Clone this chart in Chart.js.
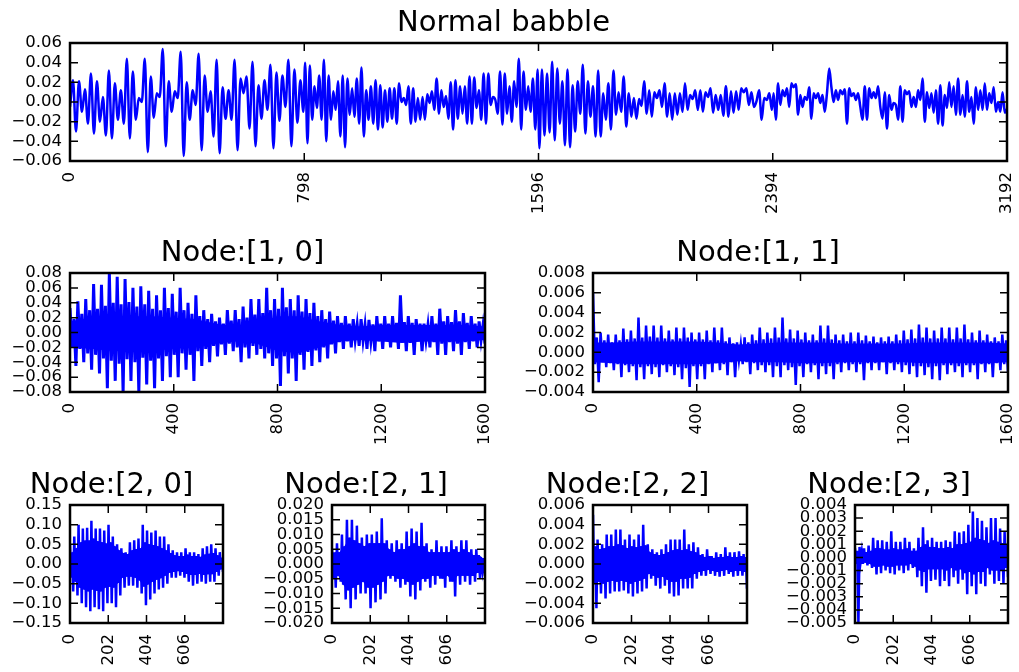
<!DOCTYPE html>
<html>
<head>
<meta charset="utf-8">
<script src="https://cdn.jsdelivr.net/npm/chart.js@4.4.1/dist/chart.umd.min.js"></script>
<style>
  html, body { margin: 0; padding: 0; background: #fff; overflow: hidden; }
  #figure { position: relative; width: 1019px; height: 672px; overflow: hidden; }
  #figure canvas { position: absolute; }
</style>
</head>
<body>
<div id="figure"></div>
<script>
// Normal babble, one quarter of the time axis at a time
var babbleQ1 = [-0.005, 0.022, -0.030, 0.021, -0.010, 0.013, -0.022, 0.029, -0.032, 0.021, -0.020, 0.005, -0.034, 0.032,
  -0.037, 0.019, -0.018, 0.012, -0.022, 0.044, -0.037, 0.031, -0.018, 0.004, 0.000, 0.044, -0.051, 0.026, -0.016, 0.009,
  0.005, 0.054, -0.045, 0.021, -0.010, 0.011, 0.004, 0.051, -0.055, 0.020, -0.018, 0.012, -0.003, 0.049, -0.049, 0.027,
  -0.010, 0.011, -0.035, 0.043, -0.052, 0.015, -0.017, 0.012, -0.018, 0.043, -0.049, 0.024, 0.009, 0.026, -0.027, 0.041,
  -0.045, 0.017, -0.017, 0.022, -0.008, 0.038, -0.047, 0.030, -0.019, 0.027, -0.005, 0.043, -0.045, 0.033, -0.021, 0.022, -0.010];
var babbleQ2 = [0.040, -0.042, 0.037, -0.018, 0.016, -0.006, 0.027, -0.018, 0.043, -0.040, 0.027, -0.018, 0.011, -0.008,
  0.021, -0.035, 0.027, -0.046, 0.024, -0.013, 0.014, -0.015, 0.024, -0.022, 0.035, -0.035, 0.012, -0.018, 0.016, -0.022,
  0.022, -0.028, 0.017, -0.026, 0.012, -0.020, 0.014, -0.017, 0.014, -0.022, 0.019, 0.000, 0.004, -0.003, 0.016, -0.022,
  0.014, -0.020, 0.004, -0.018, 0.005, -0.018, 0.008, -0.001, 0.011, -0.008, 0.024, -0.012, 0.012, -0.005, 0.006, -0.017,
  0.020, -0.028, 0.022, -0.017, 0.016, -0.012, 0.016, -0.022, 0.026, -0.022, 0.025, -0.006, 0.012, -0.018, 0.029, -0.022,
  0.029, -0.003, 0.005, 0.002, -0.012, 0.031, -0.023, 0.029, -0.012, 0.016, -0.020, 0.021, -0.005, 0.044, -0.028, 0.031,
  -0.008, 0.016, -0.010, 0.024, -0.028, 0.033];
var babbleQ3 = [-0.047, 0.033, -0.034, 0.029, -0.031, 0.041, -0.039, 0.034, -0.022, 0.021, -0.044, 0.033, -0.046, 0.017,
  -0.030, 0.021, -0.012, 0.038, -0.032, 0.021, -0.015, 0.016, -0.035, 0.032, -0.035, 0.009, -0.018, 0.019, -0.028, 0.032,
  -0.013, 0.010, -0.010, 0.026, -0.025, 0.009, -0.015, 0.004, -0.017, 0.003, -0.004, 0.021, -0.012, 0.012, -0.015, 0.010,
  0.004, 0.012, -0.005, 0.019, -0.015, 0.009, -0.018, 0.009, -0.013, 0.009, -0.010, 0.019, -0.008, 0.007, 0.003, 0.012,
  -0.008, 0.012, -0.010, 0.010, 0.005, 0.014, -0.011, 0.007, -0.008, 0.007, -0.014, 0.016, -0.015, 0.011, -0.011, 0.011,
  -0.008, 0.014, 0.010, 0.014, -0.003, 0.010, -0.005, 0.001, 0.012, -0.018, 0.004, 0.002, 0.009, -0.008];
var babbleQ4 = [0.009, -0.018, 0.019, -0.003, 0.012, 0.006, 0.014, -0.005, 0.019, 0.015, 0.018, -0.013, 0.007, -0.005,
  0.005, 0.002, 0.015, -0.017, 0.009, 0.004, 0.009, -0.001, 0.007, -0.010, 0.009, 0.034, 0.015, 0.000, 0.012, 0.002,
  0.012, 0.008, 0.013, -0.022, 0.014, 0.006, 0.009, 0.002, 0.009, -0.005, -0.018, 0.016, -0.018, 0.014, 0.004, 0.010,
  0.004, 0.016, -0.005, -0.017, 0.010, -0.027, 0.007, -0.008, -0.001, -0.003, -0.018, 0.016, -0.020, 0.012, 0.008, 0.011,
  -0.005, 0.005, -0.005, 0.012, 0.002, 0.024, -0.020, 0.010, -0.006, 0.009, -0.011, 0.012, -0.022, 0.017, -0.024, 0.007,
  -0.006, 0.020, -0.005, 0.016, -0.013, 0.024, -0.013, 0.007, -0.015, 0.021, -0.010, 0.005, -0.022, 0.015, -0.008, 0.012,
  -0.008, 0.019, -0.008, 0.009, -0.001, 0.015, -0.010, 0.000, -0.010, 0.010, -0.011, -0.007];

// node signals: each row is [peak up, inner down, inner up, peak down] along the time axis
var node10 = [
  [0.033, -0.020, 0.018, -0.045], [0.042, -0.022, 0.025, -0.040], [0.045, -0.028, 0.030, -0.050], [0.065, -0.030, 0.032, -0.055],
  [0.064, -0.035, 0.036, -0.075], [0.080, -0.038, 0.040, -0.065], [0.075, -0.042, 0.038, -0.080], [0.072, -0.036, 0.041, -0.065],
  [0.060, -0.040, 0.035, -0.080], [0.062, -0.034, 0.038, -0.070], [0.056, -0.038, 0.032, -0.075], [0.050, -0.035, 0.030, -0.065],
  [0.060, -0.032, 0.033, -0.060], [0.052, -0.030, 0.028, -0.060], [0.060, -0.028, 0.030, -0.050], [0.040, -0.030, 0.025, -0.065],
  [0.050, -0.025, 0.022, -0.045], [0.030, -0.022, 0.018, -0.040], [0.025, -0.018, 0.015, -0.032], [0.020, -0.016, 0.012, -0.030],
  [0.030, -0.015, 0.016, -0.025], [0.030, -0.020, 0.018, -0.040], [0.035, -0.020, 0.020, -0.035], [0.045, -0.018, 0.024, -0.030],
  [0.045, -0.022, 0.026, -0.035], [0.060, -0.028, 0.030, -0.045], [0.045, -0.035, 0.032, -0.072], [0.060, -0.032, 0.034, -0.055],
  [0.045, -0.035, 0.030, -0.065], [0.050, -0.030, 0.028, -0.050], [0.045, -0.026, 0.026, -0.045], [0.040, -0.024, 0.022, -0.040],
  [0.030, -0.020, 0.018, -0.035], [0.028, -0.016, 0.016, -0.028], [0.022, -0.013, 0.013, -0.022], [0.022, -0.012, 0.012, -0.020],
  [0.018, -0.010, 0.011, -0.018], [0.018, -0.011, 0.010, -0.022], [0.017, -0.012, 0.011, -0.025], [0.022, -0.012, 0.012, -0.022],
  [0.022, -0.011, 0.012, -0.020], [0.022, -0.012, 0.013, -0.022], [0.050, -0.013, 0.014, -0.025], [0.022, -0.014, 0.013, -0.030],
  [0.018, -0.012, 0.012, -0.025], [0.012, -0.011, 0.010, -0.020], [0.022, -0.013, 0.012, -0.030], [0.032, -0.015, 0.015, -0.030],
  [0.022, -0.013, 0.014, -0.025], [0.030, -0.015, 0.015, -0.030], [0.026, -0.013, 0.013, -0.022], [0.022, -0.012, 0.012, -0.020],
  [0.015, -0.010, 0.010, -0.015]];
// solid core of the Node:[1, 0] signal, every 80 samples
var node10CoreUp = [0.015, 0.020, 0.022, 0.022, 0.022, 0.020, 0.018, 0.012, 0.008, 0.012, 0.022,
  0.022, 0.015, 0.010, 0.008, 0.010, 0.010, 0.010, 0.010, 0.010, 0.008];
var node10CoreDown = [-0.020, -0.022, -0.025, -0.025, -0.025, -0.022, -0.020, -0.015, -0.012, -0.015, -0.025,
  -0.028, -0.020, -0.012, -0.010, -0.012, -0.014, -0.012, -0.012, -0.012, -0.010];

var node11 = [
  [0.0060, -0.0012, 0.0015, -0.0030], [0.0020, -0.0010, 0.0012, -0.0015], [0.0018, -0.0011, 0.0010, -0.0018], [0.0018, -0.0012, 0.0012, -0.0025],
  [0.0024, -0.0013, 0.0013, -0.0020], [0.0022, -0.0014, 0.0014, -0.0028], [0.0035, -0.0015, 0.0015, -0.0027], [0.0027, -0.0014, 0.0016, -0.0022],
  [0.0027, -0.0015, 0.0015, -0.0025], [0.0027, -0.0013, 0.0014, -0.0020], [0.0022, -0.0014, 0.0013, -0.0023], [0.0025, -0.0015, 0.0014, -0.0027],
  [0.0025, -0.0016, 0.0015, -0.0035], [0.0020, -0.0014, 0.0013, -0.0027], [0.0020, -0.0014, 0.0013, -0.0027], [0.0022, -0.0012, 0.0012, -0.0020],
  [0.0025, -0.0011, 0.0012, -0.0018], [0.0025, -0.0012, 0.0011, -0.0023], [0.0015, -0.0010, 0.0009, -0.0025], [0.0010, -0.0008, 0.0008, -0.0012],
  [0.0015, -0.0010, 0.0010, -0.0022], [0.0018, -0.0011, 0.0012, -0.0018], [0.0025, -0.0013, 0.0013, -0.0020], [0.0020, -0.0013, 0.0014, -0.0025],
  [0.0025, -0.0014, 0.0015, -0.0025], [0.0035, -0.0013, 0.0014, -0.0018], [0.0023, -0.0015, 0.0014, -0.0033], [0.0022, -0.0014, 0.0013, -0.0025],
  [0.0020, -0.0012, 0.0012, -0.0020], [0.0018, -0.0013, 0.0012, -0.0027], [0.0027, -0.0014, 0.0014, -0.0022], [0.0027, -0.0014, 0.0013, -0.0027],
  [0.0018, -0.0012, 0.0012, -0.0020], [0.0018, -0.0011, 0.0011, -0.0018], [0.0020, -0.0012, 0.0011, -0.0020], [0.0020, -0.0012, 0.0012, -0.0028],
  [0.0017, -0.0011, 0.0011, -0.0018], [0.0016, -0.0011, 0.0010, -0.0018], [0.0015, -0.0010, 0.0011, -0.0022], [0.0016, -0.0011, 0.0011, -0.0018],
  [0.0018, -0.0012, 0.0012, -0.0020], [0.0022, -0.0013, 0.0013, -0.0022], [0.0023, -0.0014, 0.0014, -0.0025], [0.0028, -0.0014, 0.0015, -0.0023],
  [0.0025, -0.0015, 0.0014, -0.0027], [0.0022, -0.0014, 0.0014, -0.0028], [0.0025, -0.0013, 0.0014, -0.0022], [0.0025, -0.0013, 0.0013, -0.0020],
  [0.0025, -0.0014, 0.0014, -0.0025], [0.0028, -0.0013, 0.0013, -0.0020], [0.0020, -0.0013, 0.0012, -0.0027], [0.0022, -0.0012, 0.0012, -0.0020],
  [0.0018, -0.0012, 0.0011, -0.0025], [0.0015, -0.0011, 0.0011, -0.0018], [0.0018, -0.0012, 0.0012, -0.0020]];
// solid core of the Node:[1, 1] signal, every 80 samples
var node11CoreUp = [0.0010, 0.0010, 0.0011, 0.0011, 0.0011, 0.0011, 0.0010, 0.0008, 0.0009, 0.0010, 0.0010,
  0.0010, 0.0009, 0.0009, 0.0009, 0.0009, 0.0010, 0.0010, 0.0010, 0.0010, 0.0009];
var node11CoreDown = [-0.0010, -0.0011, -0.0012, -0.0012, -0.0012, -0.0012, -0.0011, -0.0009, -0.0010, -0.0010, -0.0011,
  -0.0011, -0.0010, -0.0010, -0.0010, -0.0010, -0.0011, -0.0011, -0.0011, -0.0011, -0.0010];

var node20 = [
  [0.050, -0.035, 0.030, -0.070], [0.070, -0.045, 0.040, -0.080], [0.100, -0.060, 0.055, -0.100], [0.090, -0.065, 0.060, -0.110],
  [0.092, -0.070, 0.060, -0.120], [0.110, -0.065, 0.065, -0.110], [0.090, -0.068, 0.058, -0.115], [0.090, -0.070, 0.055, -0.120],
  [0.085, -0.060, 0.052, -0.100], [0.100, -0.058, 0.055, -0.100], [0.070, -0.060, 0.045, -0.110], [0.050, -0.048, 0.035, -0.080],
  [0.040, -0.035, 0.028, -0.060], [0.030, -0.032, 0.025, -0.055], [0.055, -0.032, 0.035, -0.055], [0.060, -0.035, 0.038, -0.060],
  [0.065, -0.042, 0.040, -0.075], [0.100, -0.058, 0.055, -0.105], [0.085, -0.052, 0.050, -0.090], [0.080, -0.045, 0.048, -0.075],
  [0.085, -0.040, 0.045, -0.065], [0.070, -0.036, 0.040, -0.060], [0.070, -0.030, 0.035, -0.050], [0.050, -0.022, 0.028, -0.035],
  [0.035, -0.020, 0.022, -0.035], [0.030, -0.018, 0.020, -0.030], [0.030, -0.020, 0.020, -0.035], [0.040, -0.025, 0.024, -0.045],
  [0.030, -0.028, 0.020, -0.055], [0.030, -0.028, 0.020, -0.050], [0.025, -0.025, 0.018, -0.045], [0.040, -0.028, 0.024, -0.050],
  [0.045, -0.026, 0.026, -0.045], [0.050, -0.026, 0.028, -0.045], [0.040, -0.020, 0.022, -0.030], [0.030, -0.014, 0.016, -0.020]];
var node21 = [
  [0.005, -0.005, 0.004, -0.008], [0.007, -0.004, 0.004, -0.006], [0.010, -0.007, 0.006, -0.012], [0.015, -0.009, 0.009, -0.015],
  [0.015, -0.008, 0.008, -0.012], [0.013, -0.007, 0.007, -0.010], [0.009, -0.006, 0.006, -0.010], [0.010, -0.008, 0.007, -0.015],
  [0.010, -0.008, 0.007, -0.013], [0.011, -0.007, 0.007, -0.012], [0.0155, -0.006, 0.007, -0.010], [0.008, -0.004, 0.005, -0.005],
  [0.007, -0.004, 0.004, -0.006], [0.008, -0.005, 0.005, -0.008], [0.007, -0.005, 0.005, -0.007], [0.011, -0.006, 0.006, -0.011],
  [0.012, -0.007, 0.007, -0.012], [0.011, -0.006, 0.006, -0.009], [0.014, -0.005, 0.006, -0.006], [0.007, -0.005, 0.004, -0.008],
  [0.005, -0.004, 0.004, -0.007], [0.008, -0.004, 0.004, -0.005], [0.006, -0.005, 0.004, -0.008], [0.006, -0.004, 0.004, -0.006],
  [0.008, -0.006, 0.005, -0.011], [0.006, -0.004, 0.004, -0.007], [0.008, -0.004, 0.005, -0.006], [0.008, -0.004, 0.004, -0.007],
  [0.005, -0.004, 0.003, -0.006], [0.005, -0.003, 0.003, -0.005], [0.002, -0.002, 0.002, -0.004]];
var node22 = [
  [0.0050, -0.0020, 0.0018, -0.0045], [0.0025, -0.0018, 0.0015, -0.0030], [0.0020, -0.0020, 0.0016, -0.0035], [0.0030, -0.0018, 0.0018, -0.0030],
  [0.0030, -0.0017, 0.0018, -0.0028], [0.0035, -0.0018, 0.0020, -0.0028], [0.0035, -0.0017, 0.0019, -0.0027], [0.0025, -0.0018, 0.0016, -0.0030],
  [0.0030, -0.0020, 0.0018, -0.0033], [0.0025, -0.0018, 0.0017, -0.0030], [0.0030, -0.0017, 0.0018, -0.0028], [0.0040, -0.0015, 0.0019, -0.0025],
  [0.0020, -0.0010, 0.0012, -0.0015], [0.0015, -0.0012, 0.0010, -0.0022], [0.0012, -0.0014, 0.0009, -0.0025], [0.0015, -0.0013, 0.0010, -0.0022],
  [0.0020, -0.0016, 0.0012, -0.0030], [0.0025, -0.0018, 0.0014, -0.0033], [0.0025, -0.0018, 0.0015, -0.0032], [0.0025, -0.0015, 0.0014, -0.0025],
  [0.0035, -0.0015, 0.0015, -0.0025], [0.0020, -0.0014, 0.0013, -0.0025], [0.0022, -0.0010, 0.0012, -0.0015], [0.0017, -0.0008, 0.0009, -0.0012],
  [0.0010, -0.0007, 0.0007, -0.0012], [0.0015, -0.0006, 0.0008, -0.0010], [0.0008, -0.0007, 0.0006, -0.0012], [0.0012, -0.0008, 0.0007, -0.0013],
  [0.0010, -0.0007, 0.0007, -0.0012], [0.0017, -0.0006, 0.0008, -0.0010], [0.0012, -0.0008, 0.0007, -0.0013], [0.0012, -0.0007, 0.0007, -0.0012],
  [0.0013, -0.0007, 0.0008, -0.0012], [0.0010, -0.0008, 0.0007, -0.0025]];
var node23 = [
  [0.0007, -0.0005, 0.0005, -0.0050], [0.0008, -0.0003, 0.0004, -0.0005], [0.0007, -0.0004, 0.0004, -0.0006], [0.0009, -0.0005, 0.0005, -0.0008],
  [0.0015, -0.0007, 0.0007, -0.0013], [0.0013, -0.0007, 0.0007, -0.0012], [0.0013, -0.0006, 0.0006, -0.0010], [0.0012, -0.0007, 0.0006, -0.0012],
  [0.0020, -0.0007, 0.0007, -0.0013], [0.0012, -0.0006, 0.0006, -0.0010], [0.0012, -0.0006, 0.0006, -0.0012], [0.0015, -0.0006, 0.0007, -0.0010],
  [0.0012, -0.0005, 0.0005, -0.0008], [0.0007, -0.0007, 0.0005, -0.0015], [0.0015, -0.0010, 0.0008, -0.0022], [0.0023, -0.0011, 0.0010, -0.0027],
  [0.0013, -0.0009, 0.0008, -0.0018], [0.0015, -0.0009, 0.0008, -0.0017], [0.0012, -0.0009, 0.0007, -0.0022], [0.0012, -0.0009, 0.0007, -0.0018],
  [0.0013, -0.0010, 0.0008, -0.0022], [0.0012, -0.0008, 0.0007, -0.0015], [0.0020, -0.0010, 0.0010, -0.0020], [0.0019, -0.0009, 0.0010, -0.0017],
  [0.0020, -0.0012, 0.0011, -0.0028], [0.0025, -0.0011, 0.0012, -0.0022], [0.0035, -0.0013, 0.0015, -0.0028], [0.0030, -0.0011, 0.0014, -0.0020],
  [0.0028, -0.0011, 0.0013, -0.0022], [0.0023, -0.0008, 0.0011, -0.0013], [0.0030, -0.0010, 0.0013, -0.0020], [0.0030, -0.0010, 0.0012, -0.0018],
  [0.0022, -0.0010, 0.0011, -0.0020], [0.0020, -0.0008, 0.0010, -0.0015]];

// tick values
var babbleXTicks = [0, 798, 1596, 2394, 3192];
var level1XTicks = [0, 400, 800, 1200, 1600];
var level2XTicks = [0, 202, 404, 606];
var babbleYTicks = [-0.06, -0.04, -0.02, 0, 0.02, 0.04, 0.06];
var node10YTicks = [-0.08, -0.06, -0.04, -0.02, 0, 0.02, 0.04, 0.06, 0.08];
var node11YTicks = [-0.004, -0.002, 0, 0.002, 0.004, 0.006, 0.008];
var node20YTicks = [-0.15, -0.10, -0.05, 0, 0.05, 0.10, 0.15];
var node21YTicks = [-0.020, -0.015, -0.010, -0.005, 0, 0.005, 0.010, 0.015, 0.020];
var node22YTicks = [-0.006, -0.004, -0.002, 0, 0.002, 0.004, 0.006];
var node23YTicks = [-0.005, -0.004, -0.003, -0.002, -0.001, 0, 0.001, 0.002, 0.003, 0.004];

// put the samples of a stretch evenly along the time axis
function spread(values, start, end) {
  var step = (end - start) / (values.length - 1);
  return values.map(function(v, i) { return { x: start + i * step, y: v }; });
}

function fmt(v, d) {
  return (v < 0 ? '\u2212' : '') + Math.abs(v).toFixed(d);
}

var babblePoints = [].concat(
  spread(babbleQ1, 0, 795),
  spread(babbleQ2, 801, 1593),
  spread(babbleQ3, 1599, 2391),
  spread(babbleQ4, 2397, 3192)
);

var plots = [
  { title: 'Normal babble', box: [70, 43, 1007, 161], yw: 70, points: babblePoints, xMax: 3192, xTicks: babbleXTicks, yTicks: babbleYTicks, dec: 2, width: 2.5 },
  { title: 'Node:[1, 0]', box: [70, 273, 485, 392], yw: 70, groups: node10, coreUp: node10CoreUp, coreDown: node10CoreDown, xMax: 1600, xTicks: level1XTicks, yTicks: node10YTicks, dec: 2, width: 3 },
  { title: 'Node:[1, 1]', box: [593, 273, 1008, 392], yw: 85, groups: node11, coreUp: node11CoreUp, coreDown: node11CoreDown, xMax: 1600, xTicks: level1XTicks, yTicks: node11YTicks, dec: 3, width: 2.5 },
  { title: 'Node:[2, 0]', box: [70, 505, 223, 623], yw: 70, groups: node20, xMax: 808, xTicks: level2XTicks, yTicks: node20YTicks, dec: 2, width: 2.5 },
  { title: 'Node:[2, 1]', box: [332, 505, 485, 623], yw: 85, groups: node21, xMax: 808, xTicks: level2XTicks, yTicks: node21YTicks, dec: 3, width: 2.5 },
  { title: 'Node:[2, 2]', box: [593, 505, 747, 623], yw: 85, groups: node22, xMax: 808, xTicks: level2XTicks, yTicks: node22YTicks, dec: 3, width: 2.5 },
  { title: 'Node:[2, 3]', box: [855, 505, 1008, 623], yw: 85, groups: node23, xMax: 808, xTicks: level2XTicks, yTicks: node23YTicks, dec: 3, width: 2.5 }
];

// matplotlib style: black frame with ticks pointing inwards on all four sides
var axesFrame = {
  id: 'axesFrame',
  afterDatasetsDraw: function(chart) {
    var ctx = chart.ctx, a = chart.chartArea, sx = chart.scales.x, sy = chart.scales.y;
    var len = 8;
    ctx.save();
    ctx.strokeStyle = '#000';
    ctx.lineWidth = 1.5;
    ctx.beginPath();
    sx.ticks.forEach(function(t) {
      var px = sx.getPixelForValue(t.value);
      ctx.moveTo(px, a.bottom); ctx.lineTo(px, a.bottom - len);
      ctx.moveTo(px, a.top); ctx.lineTo(px, a.top + len);
    });
    sy.ticks.forEach(function(t) {
      var py = sy.getPixelForValue(t.value);
      ctx.moveTo(a.left, py); ctx.lineTo(a.left + len, py);
      ctx.moveTo(a.right, py); ctx.lineTo(a.right - len, py);
    });
    ctx.stroke();
    ctx.lineWidth = 2.5;
    ctx.strokeRect(a.left, a.top, a.right - a.left, a.bottom - a.top);
    ctx.restore();
  }
};

var BLUE = '#0000ff';
var TITLE_H = 40, X_AXIS_H = 60;
var tickFont = { family: 'DejaVu Sans', size: 16.5 };
var figure = document.getElementById('figure');

function buildDatasets(p) {
  if (!p.groups) {
    return [{ data: p.points, borderColor: BLUE, borderWidth: p.width, pointRadius: 0, fill: false,
              tension: 0.4, cubicInterpolationMode: 'monotone' }];
  }
  // a dense signal: a solid core band, with the samples' peaks sticking out of it
  var pts = spread(p.groups.flat(), 0, p.xMax);
  var bandUp, bandDown;
  if (p.coreUp) {
    bandUp = spread(p.coreUp, 0, p.xMax);
    bandDown = spread(p.coreDown, 0, p.xMax);
  } else {
    bandUp = pts.filter(function(d, i) { return i % 4 === 2; });
    bandDown = pts.filter(function(d, i) { return i % 4 === 1; });
  }
  return [
    { data: bandUp, borderWidth: 0, pointRadius: 0, fill: false, borderColor: BLUE },
    { data: bandDown, borderWidth: 0, pointRadius: 0, fill: '-1', backgroundColor: BLUE, borderColor: BLUE },
    { data: pts, borderColor: BLUE, borderWidth: p.width, pointRadius: 0, fill: false, tension: 0 }
  ];
}

plots.forEach(function(p) {
  var L = p.box[0], T = p.box[1], R = p.box[2], B = p.box[3];
  var canvas = document.createElement('canvas');
  // the canvas is symmetric around the axes so the title centres over them
  canvas.width = (R - L) + 2 * p.yw;
  canvas.height = (B - T) + TITLE_H + X_AXIS_H;
  canvas.style.left = (L - p.yw) + 'px';
  canvas.style.top = (T - TITLE_H) + 'px';
  figure.appendChild(canvas);

  new Chart(canvas, {
    type: 'line',
    data: { datasets: buildDatasets(p) },
    options: {
      responsive: false,
      animation: false,
      events: [],
      layout: { padding: { left: 0, top: 0, bottom: 0, right: p.yw } },
      plugins: {
        legend: { display: false },
        tooltip: { enabled: false },
        filler: { propagate: false },
        title: {
          display: true,
          text: p.title,
          color: '#000',
          font: { family: 'DejaVu Sans', size: 29, weight: 'normal', lineHeight: '35px' },
          padding: { top: 3, bottom: 2 }
        }
      },
      scales: {
        x: {
          type: 'linear',
          min: 0,
          max: p.xMax,
          grid: { display: false, drawTicks: false },
          border: { display: false },
          ticks: {
            autoSkip: false,
            minRotation: 90,
            maxRotation: 90,
            padding: 11,
            color: '#000',
            font: tickFont,
            callback: function(v) { return String(v); }
          },
          afterBuildTicks: function(s) { s.ticks = p.xTicks.map(function(v) { return { value: v }; }); },
          afterFit: function(s) { s.height = X_AXIS_H; }
        },
        y: {
          min: p.yTicks[0],
          max: p.yTicks[p.yTicks.length - 1],
          grid: { display: false, drawTicks: false },
          border: { display: false },
          ticks: {
            autoSkip: false,
            padding: 8,
            color: '#000',
            font: tickFont,
            callback: function(v) { return fmt(v, p.dec); }
          },
          afterBuildTicks: function(s) { s.ticks = p.yTicks.map(function(v) { return { value: v }; }); },
          afterFit: function(s) { s.width = p.yw; }
        }
      }
    },
    plugins: [axesFrame]
  });
});
</script>
</body>
</html>
